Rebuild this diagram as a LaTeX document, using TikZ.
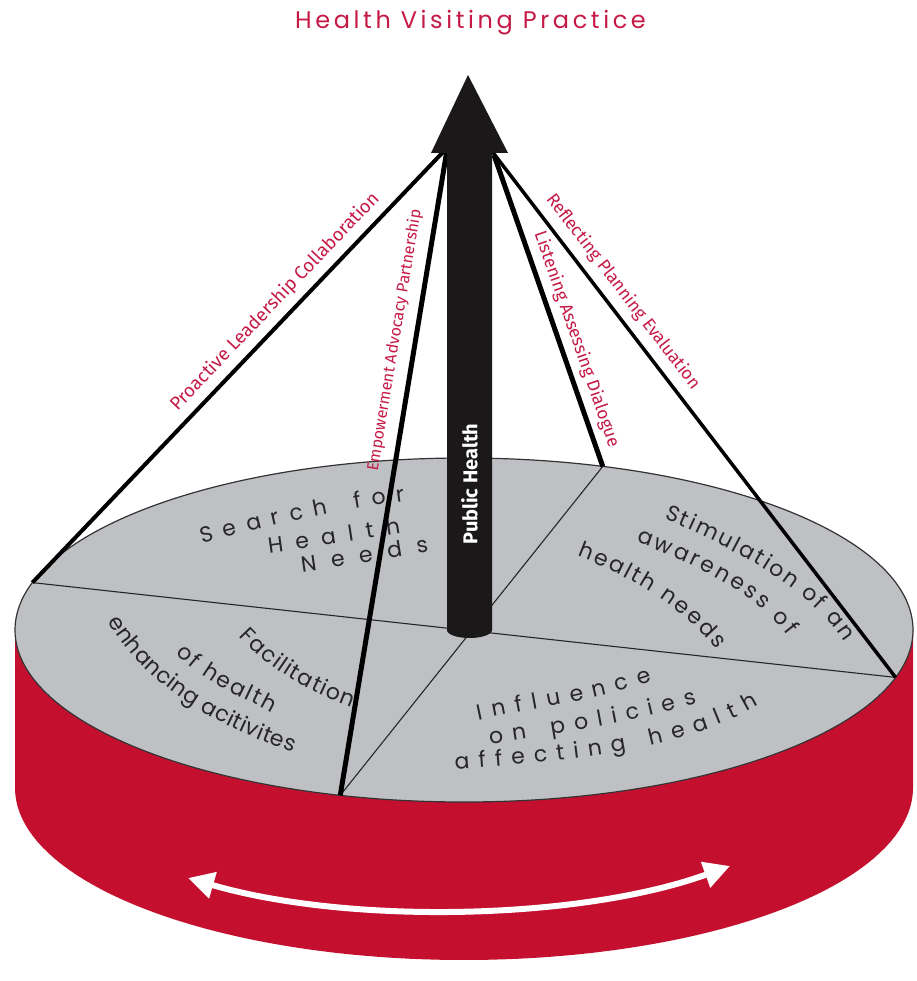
\documentclass[tikz,border=0pt]{standalone}
\usepackage{fontspec}
\usetikzlibrary{decorations.text,arrows.meta}
\newfontfamily\geofont{Poppins}
\newfontfamily\labfont{Fira Sans}
\newfontfamily\titlefont[LetterSpace=15]{Poppins}
\definecolor{hvred}{RGB}{196,16,46}
\definecolor{labred}{RGB}{198,26,70}
\definecolor{topgray}{RGB}{190,192,196}
\definecolor{disktext}{RGB}{38,38,40}
\definecolor{polecol}{RGB}{26,24,24}
\newcommand\dsk{\geofont\fontsize{22}{26}\selectfont\color{disktext}}
\begin{document}
\begin{tikzpicture}[x=1pt,y=-1pt,
  cable/.style={line width=4pt, black},
  lab/.style={font=\labfont\fontsize{17.5}{20}\selectfont, text=labred, inner sep=2pt},
  divider/.style={line width=1.1pt, black!85},
]
\useasboundingbox (0,0) rectangle (916,981);
\fill[white] (0,0) rectangle (916,981);

% title
\node[font=\titlefont\fontsize{24}{28}\selectfont, text=labred, anchor=base, inner sep=0pt] (title) at (470.5,29) {Health Visiting Practice};

% points on the top rim
\coordinate (L) at ({464+449*cos(164)},{630-172*sin(164)});
\coordinate (R) at ({464+449*cos(-16)},{630-172*sin(-16)});
\coordinate (T) at ({464+449*cos(72)},{630-172*sin(72)});
\coordinate (B) at ({464+449*cos(254)},{630-172*sin(254)});
% cable anchors under the arrow head
\coordinate (aP) at (445,150);
\coordinate (aE) at (447,150);
\coordinate (aLi) at (494,155);
\coordinate (aR) at (491,150);
\coordinate (aw1) at (188,878);
\coordinate (aw2) at (730,866);

% red side of the drum
\fill[hvred] plot[domain=180:360, samples=90] ({464+449*cos(\x)},{788-172*sin(\x)})
  -- (913,630) -- plot[domain=0:-180, samples=90] ({464+449*cos(\x)},{630-172*sin(\x)}) -- cycle;
% top face
\fill[topgray, draw=black!80, line width=1.2pt] (464,630) ellipse [x radius=449pt, y radius=172pt];
% sector dividers
\draw[divider] (L) -- (R);
\draw[divider] (T) -- (B);

% disk texts
\path[decorate, decoration={text along path, text align={fit to path}, text={|\dsk|Search for}}]
  (202,544) .. controls (270,525) and (337,510) .. (405,501);
\path[decorate, decoration={text along path, text align={fit to path}, text={|\dsk|Health}}]
  (269,553) .. controls (313,547) and (357,540) .. (401,533);
\path[decorate, decoration={text along path, text align={fit to path}, text={|\dsk|Needs}}]
  (302,572) .. controls (345,566) and (386,559) .. (429,552);

\path[decorate, decoration={text along path, text align={fit to path}, text={|\dsk|Stimulation of an}}]
  (664,519) .. controls (741,551) and (811,590) .. (844,642);
\path[decorate, decoration={text along path, text align={fit to path}, text={|\dsk|awareness of}}]
  (636,542) .. controls (697,564) and (756,594) .. (788,636);
\path[decorate, decoration={text along path, text align={fit to path}, text={|\dsk|health needs}}]
  (577,556) .. controls (633,577) and (689,612) .. (716,650);

\path[decorate, decoration={text along path, text align={fit to path}, text={|\dsk|Facilitation}}]
  (239,636) .. controls (271,671) and (308,691) .. (352,707);
\path[decorate, decoration={text along path, text align={fit to path}, text={|\dsk|of health}}]
  (176,653) .. controls (209,687) and (240,695) .. (272,713);
\path[decorate, decoration={text along path, text align={fit to path}, text={|\dsk|enhancing acitivites}}]
  (108,621) .. controls (144,685) and (220,728) .. (293,752);

\path[decorate, decoration={text along path, text align={fit to path}, text={|\dsk|Influence}}]
  (478,720) .. controls (534,708) and (599,700) .. (652,681);
\path[decorate, decoration={text along path, text align={fit to path}, text={|\dsk|on policies}}]
  (490,744) .. controls (556,734) and (634,723) .. (697,703);
\path[decorate, decoration={text along path, text align={fit to path}, text={|\dsk|affecting health}}]
  (455,769) .. controls (551,762) and (675,754) .. (759,705);

% cables with their labels
\draw[cable] (L) -- node[lab, font=\labfont\fontsize{18.5}{21}\selectfont, sloped, above=5pt, pos=0.62] (labP) {Proactive Leadership Collaboration} (aP);
\draw[cable, line width=5pt] (B) -- node[lab, font=\labfont\fontsize{16}{19}\selectfont, sloped, above=8pt, pos=0.70] (labE) {Empowerment Advocacy Partnership} (aE);
\draw[cable, line width=5pt] (aLi) -- node[lab, sloped, above=4pt, pos=0.61] (labL) {Listening Assessing Dialogue} (T);
\draw[cable, line width=3.5pt] (aR) -- node[lab, sloped, above=6pt, pos=0.29] (labR) {Reflecting Planning Evaluation} (R);

% pole with arrow head
\fill[polecol] (447,150) -- (447,630) -- plot[domain=180:360, samples=30] ({469.5+22.5*cos(\x)},{630-8*sin(\x)}) -- (492,150) -- cycle;
\fill[polecol] (468,75) -- (508,153) -- (431,153) -- cycle;
\node[rotate=90, font=\labfont\bfseries\fontsize{20}{23}\selectfont, text=white, inner sep=0pt] (ph) at (469.5,484) {Public Health};

% white double arrow on the drum
\draw[white, line width=6pt, {Triangle[length=26pt,width=26pt]}-{Triangle[length=26pt,width=26pt]}]
  (aw1) .. controls (350,925) and (580,920) .. (aw2);
\end{tikzpicture}
\end{document}
